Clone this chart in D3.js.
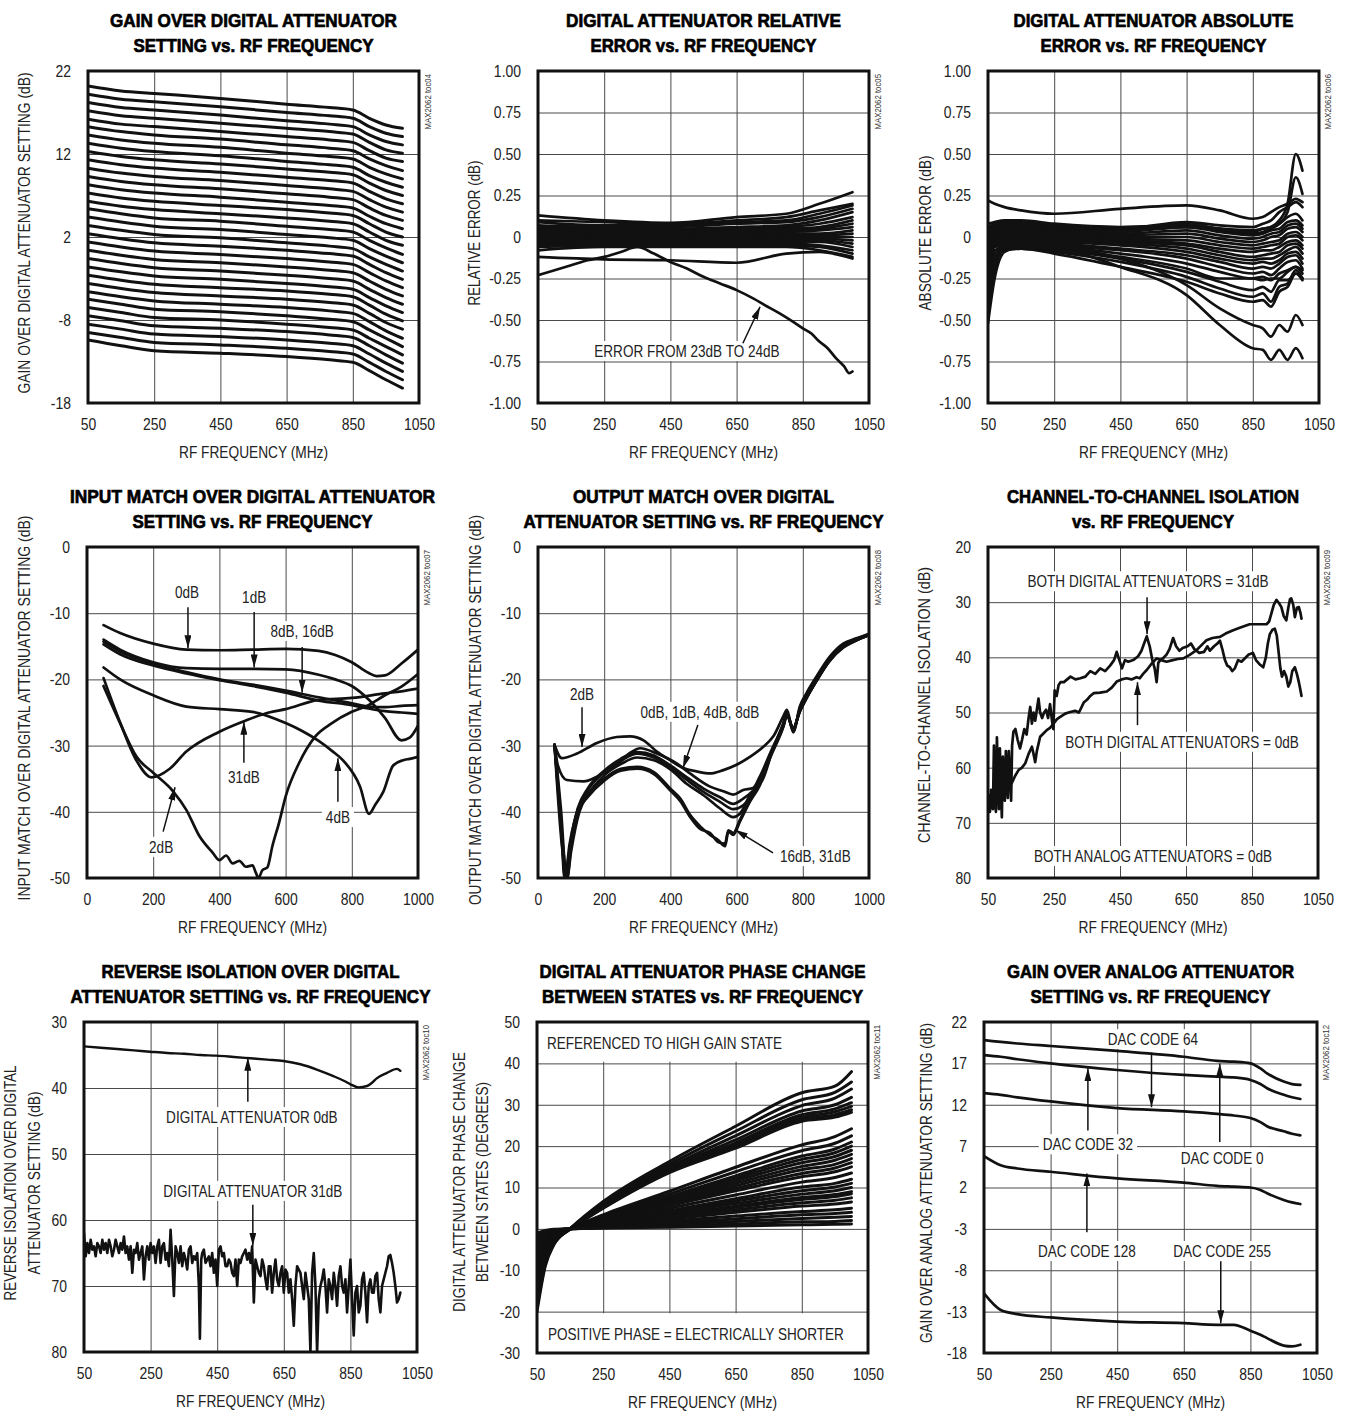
<!DOCTYPE html>
<html>
<head>
<meta charset="utf-8">
<script src="https://cdn.jsdelivr.net/npm/d3@7"></script>
<style>
  body { margin: 0; background: #fff; }
</style>
</head>
<body>
<script>
// ---------- data ----------

const freqTicks = [50, 250, 450, 650, 850, 1050];
const matchFreqTicks = [0, 200, 400, 600, 800, 1000];

// toc04: gain over digital attenuator setting (0..31 dB states)
const gainTicks = [-18, -8, 2, 12, 22];
const gainFreq = [50, 150, 250, 450, 650, 780, 850, 900, 950, 1000];
const gainRows = [
  [20.2, 19.6, 19.3, 18.7, 18.0, 17.6, 17.3, 16.3, 15.5, 15.1],
  [19.2, 18.6, 18.3, 17.7, 17.0, 16.6, 16.3, 15.3, 14.5, 14.1],
  [18.2, 17.6, 17.3, 16.7, 16.0, 15.6, 15.3, 14.3, 13.5, 13.1],
  [17.2, 16.6, 16.3, 15.7, 15.1, 14.7, 14.4, 13.4, 12.5, 12.1],
  [16.2, 15.6, 15.3, 14.7, 14.1, 13.7, 13.4, 12.4, 11.5, 11.1],
  [15.3, 14.7, 14.3, 13.8, 13.1, 12.7, 12.4, 11.4, 10.6, 10.0],
  [14.3, 13.7, 13.3, 12.8, 12.1, 11.7, 11.4, 10.4, 9.6, 9.0],
  [13.3, 12.7, 12.3, 11.8, 11.1, 10.7, 10.4, 9.4, 8.6, 8.0],
  [12.3, 11.7, 11.3, 10.8, 10.2, 9.8, 9.5, 8.5, 7.6, 7.0],
  [11.3, 10.7, 10.3, 9.8, 9.2, 8.8, 8.5, 7.5, 6.6, 6.0],
  [10.3, 9.7, 9.3, 8.8, 8.2, 7.8, 7.5, 6.5, 5.6, 5.0],
  [9.3, 8.7, 8.3, 7.8, 7.2, 6.8, 6.5, 5.5, 4.6, 4.0],
  [8.3, 7.7, 7.3, 6.8, 6.2, 5.8, 5.5, 4.5, 3.6, 3.0],
  [7.3, 6.7, 6.3, 5.8, 5.3, 4.9, 4.6, 3.6, 2.6, 2.0],
  [6.3, 5.7, 5.3, 4.8, 4.3, 3.9, 3.6, 2.6, 1.6, 1.0],
  [5.4, 4.8, 4.3, 3.9, 3.3, 2.9, 2.6, 1.6, 0.7, -0.1],
  [4.4, 3.8, 3.3, 2.9, 2.3, 1.9, 1.6, 0.6, -0.3, -1.1],
  [3.4, 2.8, 2.3, 1.9, 1.3, 0.9, 0.6, -0.4, -1.3, -2.1],
  [2.4, 1.8, 1.3, 0.9, 0.4, 0.0, -0.3, -1.3, -2.3, -3.1],
  [1.4, 0.8, 0.3, -0.1, -0.6, -1.0, -1.3, -2.3, -3.3, -4.1],
  [0.4, -0.2, -0.7, -1.1, -1.6, -2.0, -2.3, -3.3, -4.3, -5.1],
  [-0.6, -1.2, -1.7, -2.1, -2.6, -3.0, -3.3, -4.3, -5.3, -6.1],
  [-1.6, -2.2, -2.7, -3.1, -3.6, -4.0, -4.3, -5.3, -6.3, -7.1],
  [-2.6, -3.2, -3.7, -4.1, -4.5, -4.9, -5.2, -6.2, -7.3, -8.1],
  [-3.6, -4.2, -4.7, -5.1, -5.5, -5.9, -6.2, -7.2, -8.3, -9.1],
  [-4.6, -5.2, -5.7, -6.1, -6.5, -6.9, -7.2, -8.2, -9.3, -10.2],
  [-5.5, -6.1, -6.7, -7.0, -7.5, -7.9, -8.2, -9.2, -10.2, -11.2],
  [-6.5, -7.1, -7.7, -8.0, -8.5, -8.9, -9.2, -10.2, -11.2, -12.2],
  [-7.5, -8.1, -8.7, -9.0, -9.4, -9.8, -10.1, -11.1, -12.2, -13.2],
  [-8.5, -9.1, -9.7, -10.0, -10.4, -10.8, -11.1, -12.1, -13.2, -14.2],
  [-9.5, -10.1, -10.7, -11.0, -11.4, -11.8, -12.1, -13.1, -14.2, -15.2],
  [-10.4, -11.1, -11.7, -12.0, -12.4, -12.8, -13.1, -14.1, -15.2, -16.2]
];

// toc05 / toc06: error axes
const errTicks = [-1, -0.75, -0.5, -0.25, 0, 0.25, 0.5, 0.75, 1];
const errLabels = ["-1.00", "-0.75", "-0.50", "-0.25", "0", "0.25", "0.50", "0.75", "1.00"];

const relFreq = [50, 250, 450, 650, 800, 900, 1000];
const relRows = [
  [0.13, 0.10, 0.085, 0.12, 0.14, 0.20, 0.27],
  [0.10, 0.09, 0.08, 0.10, 0.12, 0.16, 0.20],
  [0.09, 0.07, 0.07, 0.09, 0.10, 0.14, 0.19],
  [0.07, 0.06, 0.06, 0.08, 0.09, 0.12, 0.17],
  [0.06, 0.05, 0.05, 0.06, 0.07, 0.10, 0.15],
  [0.05, 0.04, 0.04, 0.05, 0.06, 0.08, 0.12],
  [0.04, 0.03, 0.03, 0.04, 0.05, 0.06, 0.10],
  [0.03, 0.02, 0.02, 0.03, 0.04, 0.05, 0.08],
  [0.02, 0.01, 0.01, 0.02, 0.03, 0.04, 0.06],
  [0.01, 0.00, 0.00, 0.01, 0.02, 0.02, 0.04],
  [0.00, -0.01, -0.01, 0.00, 0.01, 0.01, 0.02],
  [-0.01, -0.02, -0.02, -0.01, 0.00, 0.00, 0.00],
  [-0.02, -0.02, -0.02, -0.02, -0.01, -0.01, -0.02],
  [-0.03, -0.03, -0.03, -0.03, -0.02, -0.02, -0.04],
  [-0.04, -0.04, -0.03, -0.03, -0.03, -0.03, -0.06],
  [-0.05, -0.04, -0.04, -0.04, -0.04, -0.05, -0.08],
  [-0.06, -0.05, -0.05, -0.05, -0.05, -0.06, -0.10],
  [-0.08, -0.06, -0.06, -0.06, -0.06, -0.08, -0.12],
  [-0.12, -0.135, -0.14, -0.155, -0.10, -0.09, -0.13]
];
const relErr23to24 = [
  [50, -0.23], [100, -0.20], [150, -0.17], [200, -0.14], [250, -0.12], [300, -0.09],
  [350, -0.06], [400, -0.10], [450, -0.15], [500, -0.19], [550, -0.24], [600, -0.28],
  [650, -0.32], [700, -0.37], [735, -0.41], [780, -0.46], [820, -0.51], [850, -0.55],
  [875, -0.58], [900, -0.63], [925, -0.67], [950, -0.73], [975, -0.78], [990, -0.82], [1000, -0.81]
];

const absFreq = [50, 70, 100, 150, 250, 450, 650, 750, 850, 880, 905, 930, 955, 980, 1000];
const absRows = [
  [0.22, 0.20, 0.18, 0.16, 0.14, 0.17, 0.19, 0.16, 0.11, 0.12, 0.15, 0.18, 0.20, 0.23, 0.21],
  [0.08, 0.09, 0.10, 0.10, 0.08, 0.06, 0.07, 0.05, 0.04, 0.05, 0.06, 0.10, 0.20, 0.50, 0.40],
  [0.06, 0.08, 0.09, 0.09, 0.07, 0.05, 0.06, 0.04, 0.02, 0.03, 0.05, 0.08, 0.15, 0.36, 0.26],
  [0.05, 0.07, 0.08, 0.08, 0.06, 0.05, 0.09, 0.07, 0.06, 0.08, 0.10, 0.15, 0.18, 0.21, 0.18],
  [0.03, 0.06, 0.07, 0.07, 0.05, 0.04, 0.08, 0.05, 0.03, 0.05, 0.06, 0.08, 0.12, 0.14, 0.10],
  [0.02, 0.05, 0.06, 0.06, 0.05, 0.03, 0.06, 0.03, 0.01, 0.02, 0.04, 0.05, 0.09, 0.10, 0.07],
  [0.00, 0.04, 0.05, 0.05, 0.04, 0.02, 0.04, 0.01, -0.01, 0.00, 0.02, 0.03, 0.07, 0.08, 0.05],
  [-0.02, 0.03, 0.04, 0.04, 0.03, 0.01, 0.02, -0.01, -0.03, -0.02, 0.00, 0.01, 0.05, 0.06, 0.03],
  [-0.04, 0.02, 0.03, 0.03, 0.02, 0.00, 0.00, -0.03, -0.05, -0.04, -0.03, -0.02, 0.02, 0.03, 0.00],
  [-0.06, 0.01, 0.02, 0.02, 0.01, -0.01, -0.02, -0.05, -0.07, -0.06, -0.05, -0.04, 0.00, 0.01, -0.02],
  [-0.08, 0.00, 0.01, 0.01, 0.00, -0.02, -0.04, -0.07, -0.09, -0.08, -0.08, -0.06, -0.03, -0.02, -0.05],
  [-0.10, -0.01, 0.00, 0.00, -0.01, -0.03, -0.05, -0.09, -0.12, -0.11, -0.10, -0.09, -0.05, -0.04, -0.07],
  [-0.12, -0.02, -0.01, -0.01, -0.02, -0.04, -0.07, -0.11, -0.14, -0.13, -0.13, -0.11, -0.08, -0.06, -0.10],
  [-0.15, -0.03, -0.02, -0.02, -0.03, -0.05, -0.09, -0.13, -0.16, -0.15, -0.16, -0.14, -0.10, -0.09, -0.13],
  [-0.18, -0.04, -0.03, -0.03, -0.04, -0.07, -0.11, -0.15, -0.19, -0.18, -0.19, -0.16, -0.12, -0.11, -0.16],
  [-0.22, -0.05, -0.04, -0.04, -0.05, -0.08, -0.13, -0.18, -0.22, -0.21, -0.23, -0.19, -0.15, -0.14, -0.19],
  [-0.26, -0.06, -0.05, -0.05, -0.06, -0.10, -0.16, -0.21, -0.25, -0.24, -0.26, -0.22, -0.20, -0.18, -0.22],
  [-0.30, -0.08, -0.06, -0.06, -0.07, -0.12, -0.19, -0.25, -0.25, -0.26, -0.25, -0.25, -0.21, -0.18, -0.20],
  [-0.35, -0.10, -0.07, -0.07, -0.08, -0.13, -0.21, -0.27, -0.32, -0.30, -0.33, -0.26, -0.26, -0.22, -0.25],
  [-0.40, -0.12, -0.08, -0.07, -0.09, -0.15, -0.24, -0.31, -0.36, -0.34, -0.39, -0.30, -0.28, -0.20, -0.25],
  [-0.45, -0.15, -0.08, -0.07, -0.10, -0.18, -0.27, -0.34, -0.39, -0.38, -0.42, -0.33, -0.30, -0.22, -0.26],
  [-0.47, -0.20, -0.07, -0.05, -0.06, -0.13, -0.29, -0.43, -0.53, -0.55, -0.60, -0.53, -0.57, -0.47, -0.53],
  [-0.52, -0.25, -0.09, -0.06, -0.07, -0.18, -0.35, -0.53, -0.67, -0.68, -0.74, -0.68, -0.74, -0.67, -0.73]
];

// toc07: input match [MHz, dB]
const matchTicks = [-50, -40, -30, -20, -10, 0];
const inMatch0dB = [[50, -11.8], [100, -13.0], [200, -14.6], [300, -15.5], [400, -15.6], [500, -15.5], [600, -15.4], [700, -15.7], [750, -16.3], [800, -17.4], [850, -19.0], [875, -19.5], [900, -19.4], [950, -17.6], [1000, -15.5]];
const inMatch1dB = [[50, -14.0], [100, -15.5], [200, -17.4], [300, -18.3], [400, -18.4], [500, -18.4], [600, -18.5], [700, -19.3], [750, -20.0], [800, -21.0], [850, -23.0], [900, -25.8], [950, -29.2], [975, -28.8], [1000, -27.0]];
const inMatch8dB = [[50, -14.3], [100, -15.8], [200, -17.6], [300, -18.9], [400, -20.0], [500, -20.8], [600, -21.7], [700, -22.7], [800, -23.6], [850, -24.1], [900, -24.2], [950, -24.0], [1000, -23.9]];
const inMatch16dB = [[50, -14.7], [100, -16.2], [200, -17.9], [300, -19.1], [400, -20.1], [500, -21.0], [600, -22.0], [700, -23.2], [800, -23.9], [850, -24.4], [900, -24.8], [950, -25.0], [1000, -25.2]];
const inMatch31dB = [[50, -19.8], [100, -26.5], [150, -32.3], [195, -34.8], [250, -33.5], [300, -30.9], [400, -27.9], [480, -26.2], [550, -25.0], [600, -24.5], [700, -23.1], [800, -22.8], [900, -22.1], [950, -21.8], [1000, -21.4]];
const inMatch2dB = [[50, -21.0], [100, -26.6], [150, -31.7], [200, -34.1], [260, -36.9], [300, -39.7], [340, -43.7], [380, -46.2], [400, -47.3], [420, -46.6], [440, -47.8], [460, -47.4], [480, -48.3], [500, -48.1], [510, -49.2], [518, -50.0], [530, -48.8], [545, -48.4], [560, -45.2], [580, -41.7], [600, -37.7], [640, -32.7], [690, -28.6], [740, -26.6], [800, -24.9], [850, -23.9], [900, -22.4], [950, -21.1], [1000, -19.2]];
const inMatch4dB = [[50, -18.2], [100, -20.0], [200, -22.4], [300, -24.1], [400, -24.5], [500, -24.9], [600, -26.6], [650, -27.8], [700, -29.3], [740, -30.8], [775, -32.3], [825, -36.2], [852, -40.3], [870, -39.0], [895, -37.0], [925, -33.0], [955, -32.2], [975, -32.0], [1000, -31.7]];

// toc08: output match [MHz, dB]
const outMatch2dB = [[50, -29.9], [72, -31.9], [118, -31.2], [178, -29.6], [238, -28.7], [278, -28.6], [319, -29.2], [359, -30.9], [399, -32.2], [439, -33.4], [479, -33.9], [520, -34.2], [560, -33.7], [600, -32.9], [640, -31.7], [680, -30.2], [711, -28.6], [741, -25.6], [752, -24.6], [771, -28.0], [791, -24.1], [811, -22.1], [841, -19.6], [881, -16.6], [922, -14.6], [962, -13.8], [1000, -13.1]];
const outMatch0dB = [[50, -29.9], [60, -33.0], [87, -35.2], [138, -35.4], [178, -34.7], [238, -32.9], [278, -31.1], [309, -30.4], [359, -31.2], [419, -32.7], [459, -34.2], [520, -36.2], [560, -36.9], [590, -37.4], [620, -36.7], [650, -36.4], [670, -34.7], [701, -31.2], [741, -26.6], [752, -25.0], [771, -27.8], [791, -24.4], [811, -22.4], [841, -19.8], [881, -16.8], [922, -14.8], [962, -13.9], [1000, -13.2]];
const outMatch1dB = [[50, -29.9], [70, -40.0], [85, -49.5], [100, -44.0], [120, -39.5], [150, -36.5], [200, -33.8], [250, -32.0], [300, -31.0], [350, -31.5], [400, -33.0], [450, -34.8], [500, -36.5], [550, -37.8], [590, -38.8], [620, -38.0], [650, -36.8], [680, -35.0], [710, -30.5], [741, -26.8], [752, -25.2], [771, -27.6], [791, -24.6], [811, -22.6], [841, -20.0], [881, -17.0], [922, -15.0], [962, -14.0], [1000, -13.3]];
const outMatch4dB = [[50, -29.9], [72, -45.0], [88, -50.0], [100, -46.0], [125, -40.0], [150, -37.5], [200, -34.5], [250, -32.8], [300, -31.8], [350, -32.2], [400, -33.6], [450, -35.8], [500, -37.5], [550, -39.5], [590, -40.8], [610, -40.3], [640, -37.5], [670, -35.5], [700, -31.5], [741, -27.0], [752, -25.4], [771, -27.4], [791, -24.8], [811, -22.8], [841, -20.2], [881, -17.2], [922, -15.1], [962, -14.1], [1000, -13.3]];
const outMatch8dB = [[50, -29.9], [70, -42.0], [82, -50.0], [95, -45.0], [115, -40.5], [150, -36.8], [200, -34.0], [250, -32.3], [300, -31.2], [350, -31.8], [400, -33.3], [450, -35.2], [500, -37.0], [550, -38.5], [590, -39.6], [620, -39.0], [650, -37.2], [700, -31.5], [741, -26.9], [752, -25.3], [771, -27.5], [791, -24.7], [811, -22.7], [841, -20.1], [881, -17.1], [922, -15.1], [962, -14.1], [1000, -13.3]];
const outMatch16dB = [[50, -29.9], [70, -42.0], [80, -50.0], [95, -46.0], [110, -42.0], [150, -37.5], [200, -35.0], [250, -33.5], [300, -33.2], [350, -34.0], [400, -36.5], [430, -38.0], [460, -40.5], [490, -42.2], [520, -43.5], [545, -44.3], [565, -45.2], [575, -43.0], [590, -43.5], [610, -41.5], [640, -38.5], [670, -36.0], [700, -32.0], [741, -27.2], [752, -25.5], [771, -27.4], [791, -24.9], [811, -22.9], [841, -20.3], [881, -17.2], [922, -15.2], [962, -14.1], [1000, -13.3]];
const outMatch31dB = [[50, -29.9], [75, -45.0], [88, -50.0], [100, -45.0], [120, -40.0], [150, -37.8], [200, -35.3], [250, -33.8], [300, -33.5], [350, -34.3], [400, -36.8], [430, -38.4], [460, -40.8], [490, -42.6], [520, -43.2], [545, -44.6], [565, -44.8], [575, -42.8], [590, -43.2], [610, -41.2], [640, -38.3], [670, -35.8], [700, -31.8], [741, -27.1], [752, -25.4], [771, -27.3], [791, -24.8], [811, -22.8], [841, -20.2], [881, -17.1], [922, -15.1], [962, -14.0], [1000, -13.2]];

// toc09: channel-to-channel isolation [MHz, dB]
const isoTicks = [20, 30, 40, 50, 60, 70, 80];
const isoBoth31dB = [[50, 66], [53, 65], [56, 68], [59, 64], [62, 66], [65, 67.5], [68, 56], [71, 66], [74, 68], [77, 54.5], [80, 62], [83, 67.5], [86, 56.5], [89, 64], [92, 69], [95, 58], [98, 63], [101, 66], [104, 57], [107, 61], [110, 65.5], [113, 57], [117, 62], [120, 66], [123, 56], [127, 53.5], [133, 53], [140, 55], [147, 56.5], [153, 55], [160, 53], [167, 54], [173, 51], [178, 49], [183, 52], [188, 50], [193, 51.5], [198, 49.5], [203, 47.5], [208, 50], [214, 51], [220, 50], [226, 49.5], [232, 51], [238, 48.5], [244, 51.5], [248, 53], [252, 46], [258, 47], [264, 45], [270, 44.5], [280, 44.5], [290, 44], [300, 43.5], [315, 44], [330, 43.8], [345, 43.5], [360, 42.5], [375, 43], [390, 42], [405, 42.5], [420, 41.5], [432, 40.5], [440, 39], [448, 40.5], [456, 42], [465, 40.5], [475, 40.8], [490, 40.5], [505, 39.8], [515, 38.8], [523, 37.5], [531, 36.2], [540, 38], [548, 40.5], [555, 42], [561, 44.5], [566, 41], [572, 40.5], [580, 40.2], [591, 39.5], [600, 38.5], [611, 36.5], [620, 38], [630, 38.8], [640, 38.3], [655, 38], [665, 37.5], [675, 38.5], [690, 39.2], [705, 39], [715, 38], [722, 38.8], [735, 38], [745, 37.5], [753, 37], [760, 38.5], [768, 40.5], [775, 41.5], [783, 41.8], [790, 42.5], [798, 42], [808, 40.5], [818, 40.8], [828, 40.2], [840, 39.5], [853, 39.2], [862, 40.5], [872, 41.2], [884, 41.8], [892, 40], [898, 37.5], [904, 35.8], [912, 35], [919, 34.8], [925, 36], [930, 38.7], [936, 42], [941, 43.5], [947, 42.5], [954, 43.5], [960, 45.3], [966, 44.5], [972, 42.5], [980, 41.8], [986, 43], [992, 44.5], [997, 46], [1000, 47]];
const isoBoth0dB = [[50, 66], [55, 65.5], [60, 66.5], [65, 65], [70, 66], [75, 65], [80, 66.5], [85, 65.5], [90, 64], [95, 65.5], [100, 64.5], [110, 63.5], [122, 62.8], [132, 61.5], [143, 60.4], [153, 60], [163, 59.2], [173, 57.5], [183, 56.2], [188, 57.5], [193, 59], [198, 57], [208, 54.4], [218, 53.8], [228, 53.2], [238, 52.8], [249, 52], [259, 51.2], [269, 50.8], [284, 50.2], [299, 49.9], [314, 49.7], [325, 50], [329, 49.6], [340, 48.2], [350, 47.7], [360, 47], [370, 46.5], [390, 46.4], [410, 46.2], [425, 45.5], [440, 44.4], [455, 44], [470, 43.8], [485, 44], [500, 43.6], [510, 43.8], [520, 43], [531, 42.3], [545, 41.2], [561, 40.2], [575, 40.5], [591, 40.8], [610, 40.5], [625, 40.3], [642, 40.2], [660, 39.6], [682, 38.7], [700, 37.6], [712, 36.9], [730, 36.5], [753, 36.3], [770, 35.7], [793, 35.1], [815, 34.6], [843, 34], [870, 34], [894, 34], [902, 33.5], [909, 32], [916, 30.5], [924, 29.6], [932, 30.2], [939, 30.9], [946, 32.5], [954, 33.3], [960, 31], [965, 29.5], [969, 29.3], [975, 30.5], [980, 32.7], [986, 31], [992, 30.9], [997, 32], [1000, 33]];

// toc10: reverse isolation [MHz, dB]
const revTicks = [30, 40, 50, 60, 70, 80];
const revIso0dB = [[50, 33.7], [100, 33.9], [150, 34.1], [200, 34.3], [248, 34.5], [300, 34.7], [350, 34.8], [400, 35.0], [448, 35.1], [500, 35.3], [550, 35.5], [600, 35.7], [649, 35.9], [700, 36.4], [749, 37.2], [799, 38.2], [830, 38.9], [849, 39.4], [874, 39.9], [900, 39.7], [915, 39.2], [930, 38.5], [960, 37.7], [990, 37.1], [1000, 37.4]];
const revIso31dB = [[50, 62], [55, 65.5], [60, 63.5], [65, 65], [70, 63], [75, 64.5], [80, 64], [85, 65.5], [90, 63.5], [95, 64], [100, 65], [105, 63], [110, 64.5], [115, 63.5], [120, 65], [125, 63], [130, 64], [135, 65.5], [140, 64.5], [145, 63], [150, 64], [155, 65], [160, 63.5], [165, 64.5], [170, 62.5], [175, 65], [180, 64], [185, 66], [190, 64], [195, 68], [200, 64.5], [205, 65], [210, 63.5], [215, 66], [220, 65], [225, 64], [230, 69], [235, 65.5], [240, 64], [245, 66], [250, 63.5], [255, 65], [260, 64], [265, 66.5], [270, 64], [275, 63], [280, 66.5], [285, 64], [290, 63.5], [295, 66], [300, 65], [305, 67], [310, 61.5], [315, 66], [320, 71.5], [325, 64], [330, 65], [335, 66.5], [340, 64], [345, 67], [350, 65], [355, 66], [360, 67.5], [365, 64.5], [370, 64], [375, 66.5], [380, 65.5], [385, 66], [390, 65], [395, 70], [398, 78], [402, 66], [405, 65], [410, 64.5], [415, 66.5], [420, 66], [425, 65.5], [430, 67], [435, 65], [440, 68], [445, 66], [450, 70], [455, 64.5], [460, 64], [465, 65.5], [470, 65], [475, 67], [480, 67], [485, 66], [490, 66.5], [495, 68], [500, 68.5], [505, 66], [510, 70], [515, 66], [520, 66.5], [525, 65.5], [530, 65], [535, 64.5], [540, 66], [545, 65], [550, 66.5], [555, 64], [560, 72.5], [565, 66], [570, 67], [575, 68], [580, 68.5], [585, 66], [590, 67], [595, 69], [600, 70.5], [605, 67], [610, 67], [615, 71], [620, 68], [625, 66], [630, 69], [635, 70], [640, 68], [645, 67], [650, 71], [655, 67.5], [660, 68], [665, 71], [670, 69], [675, 72], [680, 76], [685, 70], [690, 67], [695, 67.5], [700, 68], [705, 70], [710, 72], [715, 68], [720, 70], [725, 72], [730, 80], [735, 68], [740, 65], [745, 70], [750, 80], [755, 72], [760, 70], [765, 69], [770, 67.5], [775, 70], [780, 74], [785, 69], [790, 70], [795, 72], [800, 68], [805, 70], [810, 73], [815, 68.5], [820, 67], [825, 70], [830, 71], [835, 69], [840, 74], [845, 70], [850, 66], [855, 72], [860, 77.5], [865, 71], [870, 70], [875, 74], [880, 73], [885, 69], [890, 68], [895, 71], [900, 75.5], [905, 70], [910, 69], [915, 71], [920, 71], [925, 68.5], [930, 68], [935, 72], [940, 74], [945, 70], [950, 69], [955, 68], [960, 67], [965, 65.5], [970, 65.3], [975, 66.5], [980, 68], [985, 70], [990, 72.5], [995, 72], [1000, 71]];

// toc11: phase change between states (degrees)
const phaseTicks = [-30, -20, -10, 0, 10, 20, 30, 40, 50];
const phaseFreq = [50, 75, 100, 150, 250, 450, 650, 850, 950, 1000];
const phaseRows = [
  [-20, -9, -4, 0, 6.6, 16.3, 24.8, 32.9, 34.5, 38.0],
  [-19, -8.5, -3.8, 0, 6.3, 15.6, 23.6, 31.2, 33.0, 35.5],
  [-18, -8, -3.5, 0, 6.0, 15.0, 22.5, 29.8, 31.6, 33.8],
  [-17, -7.5, -3.3, 0, 5.7, 14.6, 21.5, 28.5, 30.0, 31.8],
  [-16, -7, -3, 0, 5.5, 14.3, 20.8, 27.6, 29.0, 30.5],
  [-15, -6.5, -2.8, 0, 5.3, 14.0, 20.2, 27.0, 28.3, 29.6],
  [-14, -6, -2.6, 0, 5.1, 13.8, 19.8, 26.5, 27.6, 28.8],
  [-13, -5.5, -2.4, 0, 5.0, 13.6, 19.5, 26.0, 27.0, 28.2],
  [-12, -5, -2, 0, 3.4, 9.1, 14.9, 20.3, 22.3, 24.2],
  [-11.5, -4.8, -1.9, 0, 3.2, 8.4, 13.8, 18.9, 20.7, 22.5],
  [-11, -4.5, -1.8, 0, 3.0, 7.8, 12.8, 17.6, 19.3, 21.0],
  [-10.5, -4.3, -1.7, 0, 2.8, 7.4, 12.2, 16.8, 18.4, 20.0],
  [-10, -4.1, -1.6, 0, 2.7, 7.0, 11.6, 16.0, 17.5, 19.0],
  [-9.5, -3.9, -1.5, 0, 2.5, 6.7, 11.0, 15.1, 16.6, 18.0],
  [-9, -3.7, -1.4, 0, 2.4, 6.3, 10.4, 14.3, 15.6, 17.0],
  [-8.5, -3.5, -1.3, 0, 2.2, 5.9, 9.8, 13.4, 14.7, 16.0],
  [-8, -3.3, -1.2, 0, 2.1, 5.6, 9.2, 12.6, 13.8, 15.0],
  [-7.5, -3.0, -1.1, 0, 1.9, 5.0, 8.2, 11.3, 12.4, 13.5],
  [-7, -2.8, -1.0, 0, 1.7, 4.4, 7.3, 10.1, 11.0, 12.0],
  [-6.5, -2.6, -0.9, 0, 1.5, 4.1, 6.7, 9.2, 10.1, 11.0],
  [-6, -2.4, -0.8, 0, 1.4, 3.7, 6.1, 8.4, 9.2, 10.0],
  [-5.5, -2.2, -0.7, 0, 1.3, 3.3, 5.5, 7.6, 8.3, 9.0],
  [-5, -2.0, -0.6, 0, 1.2, 3.1, 5.2, 7.1, 7.8, 8.5],
  [-4.5, -1.8, -0.5, 0, 1.1, 2.8, 4.6, 6.3, 6.9, 7.5],
  [-4, -1.6, -0.5, 0, 0.9, 2.4, 4.0, 5.5, 6.0, 6.5],
  [-3, -1.2, -0.4, 0, 0.7, 1.9, 3.1, 4.2, 4.6, 5.0],
  [-2.5, -1.0, -0.3, 0, 0.6, 1.5, 2.4, 3.4, 3.7, 4.0],
  [-2, -0.8, -0.3, 0, 0.4, 1.1, 1.8, 2.5, 2.8, 3.0],
  [-1.5, -0.6, -0.2, 0, 0.3, 0.7, 1.2, 1.7, 1.8, 2.0],
  [-1, -0.4, -0.1, 0, 0.2, 0.4, 0.7, 1.0, 1.1, 1.2]
];

// toc12: gain over analog attenuator setting
const anaTicks = [-18, -13, -8, -3, 2, 7, 12, 17, 22];
const anaFreq = [50, 100, 150, 250, 450, 650, 750, 800, 850, 880, 900, 950, 975, 1000];
const dacCode0 = [19.8, 19.6, 19.4, 19.1, 18.5, 17.8, 17.3, 17.2, 17.0, 16.4, 15.8, 14.8, 14.5, 14.4];
const dacCode32 = [18.0, 17.8, 17.5, 17.0, 16.2, 15.6, 15.4, 15.3, 15.0, 14.5, 14.0, 13.2, 12.9, 12.7];
const dacCode64 = [13.4, 13.2, 12.9, 12.4, 11.6, 11.2, 10.9, 10.7, 10.4, 9.9, 9.4, 8.8, 8.5, 8.3];
const dacCode128 = [5.8, 4.7, 4.3, 3.9, 3.1, 2.6, 2.2, 2.1, 2.0, 1.7, 1.3, 0.5, 0.2, 0.0];
const dacCode255 = [-10.8, -12.8, -13.3, -13.7, -14.2, -14.4, -14.6, -14.6, -15.3, -15.8, -16.2, -17.1, -17.2, -17.0];

// ---------- drawing ----------

// Helvetica Narrow look: Arial-metric font squeezed horizontally
const FONT = "'Liberation Sans', Arial, sans-serif";
const NARROW = 0.82;
const INK = "#111";

const svg = d3.select("body").append("svg")
  .attr("width", 1349).attr("height", 1412)
  .style("background", "#fff");
const defs = svg.append("defs");

defs.append("marker")
  .attr("id", "head")
  .attr("viewBox", "0 0 12 6")
  .attr("refX", 12).attr("refY", 3)
  .attr("markerWidth", 13).attr("markerHeight", 7)
  .attr("markerUnits", "userSpaceOnUse")
  .attr("preserveAspectRatio", "none")
  .attr("orient", "auto")
  .append("path").attr("d", "M0,0L12,3L0,6Z").attr("fill", INK);

const zip = (xs, ys) => xs.map((f, i) => [f, ys[i]]);
let clipCount = 0;

function squeeze(sel) {
  sel.each(function () {
    const len = this.getComputedTextLength();
    d3.select(this).attr("textLength", len * NARROW).attr("lengthAdjust", "spacingAndGlyphs");
  });
}

function panel(o) {
  const x = d3.scaleLinear().domain([o.xTicks[0], o.xTicks[o.xTicks.length - 1]]).range([0, o.w]);
  const y = d3.scaleLinear().domain(o.yDomain).range([o.h, 0]);
  const g = svg.append("g").attr("transform", `translate(${o.left},${o.top})`);
  const clip = "clip" + (clipCount++);
  defs.append("clipPath").attr("id", clip).append("rect").attr("width", o.w).attr("height", o.h);

  // grid lines
  g.append("g").attr("transform", `translate(0,${o.h})`)
    .call(d3.axisBottom(x).tickValues(o.xTicks.slice(1, -1)).tickSize(-o.h).tickFormat(""))
    .call(a => a.select(".domain").remove())
    .call(a => a.selectAll("line").attr("stroke", "#4a4a4a").attr("stroke-width", 1));
  g.append("g")
    .call(d3.axisLeft(y).tickValues(o.yTicks.slice(1, -1)).tickSize(-o.w).tickFormat(""))
    .call(a => a.select(".domain").remove())
    .call(a => a.selectAll("line").attr("stroke", "#4a4a4a").attr("stroke-width", 1));

  const labels = g.append("g");
  const plot = g.append("g").attr("clip-path", `url(#${clip})`);
  const arrows = g.append("g");

  g.append("rect").attr("width", o.w).attr("height", o.h)
    .attr("fill", "none").attr("stroke", INK).attr("stroke-width", 3);

  // tick labels
  const xl = o.xLabels || o.xTicks.map(String);
  g.append("g").attr("transform", `translate(0,${o.h})`)
    .call(d3.axisBottom(x).tickValues(o.xTicks).tickSize(0).tickPadding(15)
      .tickFormat(d => xl[o.xTicks.indexOf(d)]))
    .call(a => a.select(".domain").remove())
    .attr("font-family", FONT).attr("font-size", 17)
    .selectAll("text").attr("fill", "#222").call(squeeze);
  const yl = o.yLabels || o.yTicks.map(String);
  g.append("g")
    .call(d3.axisLeft(y).tickValues(o.yTicks).tickSize(0).tickPadding(17)
      .tickFormat(d => yl[o.yTicks.indexOf(d)]))
    .call(a => a.select(".domain").remove())
    .attr("font-family", FONT).attr("font-size", 17)
    .selectAll("text").attr("fill", "#222").call(squeeze);

  // title
  o.title.forEach((t, i) => {
    g.append("text").attr("x", o.w / 2).attr("y", i === 0 ? -44.5 : -19)
      .attr("text-anchor", "middle")
      .attr("font-family", FONT).attr("font-size", 19).attr("font-weight", "bold")
      .attr("fill", "#000").attr("stroke", "#000").attr("stroke-width", 0.7)
      .attr("textLength", o.titleLen[i]).attr("lengthAdjust", "spacingAndGlyphs")
      .text(t);
  });

  // x axis title
  g.append("text").attr("x", o.w / 2).attr("y", o.h + 55)
    .attr("text-anchor", "middle")
    .attr("font-family", FONT).attr("font-size", 16.5).attr("fill", "#222")
    .attr("textLength", 149).attr("lengthAdjust", "spacingAndGlyphs")
    .text("RF FREQUENCY (MHz)");

  // y axis title (one or two lines)
  o.yTitle.forEach((t, i) => {
    g.append("text")
      .attr("transform", `translate(${o.yTitleX[i]},${o.yTitleCy})rotate(-90)`)
      .attr("text-anchor", "middle")
      .attr("font-family", FONT).attr("font-size", 16.5).attr("fill", "#222")
      .attr("textLength", o.yTitleLen[i]).attr("lengthAdjust", "spacingAndGlyphs")
      .text(t);
  });

  // figure code
  g.append("text")
    .attr("transform", `translate(${o.w + 12},3)rotate(-90)`)
    .attr("text-anchor", "end")
    .attr("font-family", FONT).attr("font-size", 9.5).attr("fill", "#333")
    .text(o.code).call(squeeze);

  return { g, x, y, plot, labels, arrows };
}

function curve(p, pts, linear, width) {
  const line = d3.line()
    .x(d => p.x(d[0])).y(d => p.y(d[1]))
    .curve(linear ? d3.curveLinear : d3.curveMonotoneX);
  p.plot.append("path").datum(pts)
    .attr("fill", "none").attr("stroke", INK)
    .attr("stroke-width", width || 2.7)
    .attr("stroke-linejoin", "round").attr("stroke-linecap", "round")
    .attr("d", line);
}

function label(p, fx, fy, text, anchor) {
  const t = p.labels.append("text")
    .attr("x", p.x(fx)).attr("y", p.y(fy))
    .attr("text-anchor", anchor || "middle")
    .attr("font-family", FONT).attr("font-size", 16.5).attr("fill", "#222")
    .text(text).call(squeeze);
  const b = t.node().getBBox();
  p.labels.insert("rect", () => t.node())
    .attr("x", b.x - 4).attr("y", b.y - 1)
    .attr("width", b.width + 8).attr("height", b.height + 2)
    .attr("fill", "#fff");
}

function blank(p, x0, x1, y0, y1) {
  p.labels.append("rect")
    .attr("x", p.x(x0)).attr("y", p.y(y0))
    .attr("width", p.x(x1) - p.x(x0)).attr("height", p.y(y1) - p.y(y0))
    .attr("fill", "#fff");
}

function arrow(p, a, b) {
  p.arrows.append("line")
    .attr("x1", p.x(a[0])).attr("y1", p.y(a[1]))
    .attr("x2", p.x(b[0])).attr("y2", p.y(b[1]))
    .attr("stroke", INK).attr("stroke-width", 1.5)
    .attr("marker-end", "url(#head)");
}

// --- row 1 ---
const p1 = panel({
  left: 88, top: 71, w: 331, h: 332,
  xTicks: freqTicks, yTicks: gainTicks, yDomain: [-18, 22],
  title: ["GAIN OVER DIGITAL ATTENUATOR", "SETTING vs. RF FREQUENCY"], titleLen: [287, 240],
  yTitle: ["GAIN OVER DIGITAL ATTENUATOR SETTING (dB)"], yTitleX: [-58], yTitleCy: 162, yTitleLen: [321],
  code: "MAX2062 toc04"
});
gainRows.forEach(r => curve(p1, zip(gainFreq, r), false, 3));

const p2 = panel({
  left: 538, top: 71, w: 331, h: 332,
  xTicks: freqTicks, yTicks: errTicks, yLabels: errLabels, yDomain: [-1, 1],
  title: ["DIGITAL ATTENUATOR RELATIVE", "ERROR vs. RF FREQUENCY"], titleLen: [275, 226],
  yTitle: ["RELATIVE ERROR (dB)"], yTitleX: [-58], yTitleCy: 162, yTitleLen: [145],
  code: "MAX2062 toc05"
});
relRows.forEach(r => curve(p2, zip(relFreq, r)));
curve(p2, relErr23to24);
label(p2, 500, -0.723, "ERROR FROM 23dB TO 24dB");
arrow(p2, [669, -0.64], [721, -0.42]);

const p3 = panel({
  left: 988, top: 71, w: 331, h: 332,
  xTicks: freqTicks, yTicks: errTicks, yLabels: errLabels, yDomain: [-1, 1],
  title: ["DIGITAL ATTENUATOR ABSOLUTE", "ERROR vs. RF FREQUENCY"], titleLen: [280, 226],
  yTitle: ["ABSOLUTE ERROR (dB)"], yTitleX: [-57], yTitleCy: 162, yTitleLen: [155],
  code: "MAX2062 toc06"
});
absRows.forEach(r => curve(p3, zip(absFreq, r)));

// --- row 2 ---
const p4 = panel({
  left: 87, top: 547, w: 331, h: 331,
  xTicks: matchFreqTicks, yTicks: matchTicks, yDomain: [-50, 0],
  title: ["INPUT MATCH OVER DIGITAL ATTENUATOR", "SETTING vs. RF FREQUENCY"], titleLen: [365, 240],
  yTitle: ["INPUT MATCH OVER DIGITAL ATTENUATOR SETTING (dB)"], yTitleX: [-57], yTitleCy: 161, yTitleLen: [385],
  code: "MAX2062 toc07"
});
label(p4, 302, -7.7, "0dB");
label(p4, 505, -8.5, "1dB");
label(p4, 650, -13.6, "8dB, 16dB");
label(p4, 474, -35.6, "31dB");
label(p4, 224, -46.2, "2dB");
label(p4, 758, -41.7, "4dB");
[inMatch0dB, inMatch1dB, inMatch8dB, inMatch16dB, inMatch31dB, inMatch2dB, inMatch4dB]
  .forEach(c => curve(p4, c));
arrow(p4, [305, -9.1], [305, -15.3]);
arrow(p4, [505, -9.8], [505, -18.2]);
arrow(p4, [650, -15.1], [650, -22.0]);
arrow(p4, [474, -32.6], [474, -26.4]);
arrow(p4, [230, -43.0], [266, -36.3]);
arrow(p4, [758, -38.5], [758, -31.9]);

const p5 = panel({
  left: 538, top: 547, w: 331, h: 331,
  xTicks: matchFreqTicks, yTicks: matchTicks, yDomain: [-50, 0],
  title: ["OUTPUT MATCH OVER DIGITAL", "ATTENUATOR SETTING vs. RF FREQUENCY"], titleLen: [261, 360],
  yTitle: ["OUTPUT MATCH OVER DIGITAL ATTENUATOR SETTING (dB)"], yTitleX: [-57], yTitleCy: 163, yTitleLen: [390],
  code: "MAX2062 toc08"
});
label(p5, 133, -23.1, "2dB");
label(p5, 489, -25.8, "0dB, 1dB, 4dB, 8dB");
label(p5, 731, -47.6, "16dB, 31dB", "start");
[outMatch2dB, outMatch0dB, outMatch1dB, outMatch4dB, outMatch8dB, outMatch16dB, outMatch31dB]
  .forEach(c => curve(p5, c));
arrow(p5, [133, -24.2], [133, -30.2]);
arrow(p5, [483, -26.9], [438, -33.4]);
arrow(p5, [710, -46.2], [595, -42.7]);

const p6 = panel({
  left: 988, top: 547, w: 330, h: 331,
  xTicks: freqTicks, yTicks: isoTicks, yDomain: [80, 20],
  title: ["CHANNEL-TO-CHANNEL ISOLATION", "vs. RF FREQUENCY"], titleLen: [292, 162],
  yTitle: ["CHANNEL-TO-CHANNEL ISOLATION (dB)"], yTitleX: [-58], yTitleCy: 158, yTitleLen: [276],
  code: "MAX2062 toc09"
});
label(p6, 535, 27.3, "BOTH DIGITAL ATTENUATORS = 31dB");
label(p6, 638, 56.4, "BOTH DIGITAL ATTENUATORS = 0dB");
label(p6, 550, 77.1, "BOTH ANALOG ATTENUATORS = 0dB");
curve(p6, isoBoth31dB, true);
curve(p6, isoBoth0dB, true);
arrow(p6, [532, 29.1], [532, 35.8]);
arrow(p6, [503, 52.3], [503, 44.5]);

// --- row 3 ---
const p7 = panel({
  left: 84, top: 1022, w: 333, h: 330,
  xTicks: freqTicks, yTicks: revTicks, yDomain: [80, 30],
  title: ["REVERSE ISOLATION OVER DIGITAL", "ATTENUATOR SETTING vs. RF FREQUENCY"], titleLen: [298, 360],
  yTitle: ["REVERSE ISOLATION OVER DIGITAL", "ATTENUATOR SETTING (dB)"], yTitleX: [-68, -44], yTitleCy: 161, yTitleLen: [235, 183],
  code: "MAX2062 toc10"
});
label(p7, 554, 45.3, "DIGITAL ATTENUATOR 0dB");
label(p7, 557, 56.5, "DIGITAL ATTENUATOR 31dB");
curve(p7, revIso0dB, false, 2.4);
curve(p7, revIso31dB, true, 2.6);
arrow(p7, [542, 42.1], [542, 35.4]);
arrow(p7, [557, 57.7], [557, 63.9]);

const p8 = panel({
  left: 537, top: 1022, w: 331, h: 331,
  xTicks: freqTicks, yTicks: phaseTicks, yDomain: [-30, 50],
  title: ["DIGITAL ATTENUATOR PHASE CHANGE", "BETWEEN STATES vs. RF FREQUENCY"], titleLen: [326, 321],
  yTitle: ["DIGITAL ATTENUATOR PHASE CHANGE", "BETWEEN STATES (DEGREES)"], yTitleX: [-72, -49], yTitleCy: 160, yTitleLen: [260, 200],
  code: "MAX2062 toc11"
});
blank(p8, 50, 880, 50, 40.4);
blank(p8, 50, 1010, -20.4, -30);
label(p8, 80, 43.5, "REFERENCED TO HIGH GAIN STATE", "start");
label(p8, 83, -26.8, "POSITIVE PHASE = ELECTRICALLY SHORTER", "start");
phaseRows.forEach(r => curve(p8, zip(phaseFreq, r), false, 3));

const p9 = panel({
  left: 984, top: 1022, w: 333, h: 331,
  xTicks: freqTicks, yTicks: anaTicks, yDomain: [-18, 22],
  title: ["GAIN OVER ANALOG ATTENUATOR", "SETTING vs. RF FREQUENCY"], titleLen: [287, 240],
  yTitle: ["GAIN OVER ANALOG ATTENUATOR SETTING (dB)"], yTitleX: [-52], yTitleCy: 161, yTitleLen: [320],
  code: "MAX2062 toc12"
});
label(p9, 557, 19.2, "DAC CODE 64");
label(p9, 362, 6.5, "DAC CODE 32");
label(p9, 765, 4.9, "DAC CODE 0");
label(p9, 359, -6.4, "DAC CODE 128");
label(p9, 765, -6.4, "DAC CODE 255");
[dacCode0, dacCode32, dacCode64, dacCode128, dacCode255].forEach(r => curve(p9, zip(anaFreq, r)));
arrow(p9, [553, 18.3], [553, 11.7]);
arrow(p9, [362, 8.9], [362, 16.4]);
arrow(p9, [758, 7.5], [758, 17.0]);
arrow(p9, [359, -3.4], [359, 3.7]);
arrow(p9, [761, -6.9], [761, -14.4]);
</script>
</body>
</html>
